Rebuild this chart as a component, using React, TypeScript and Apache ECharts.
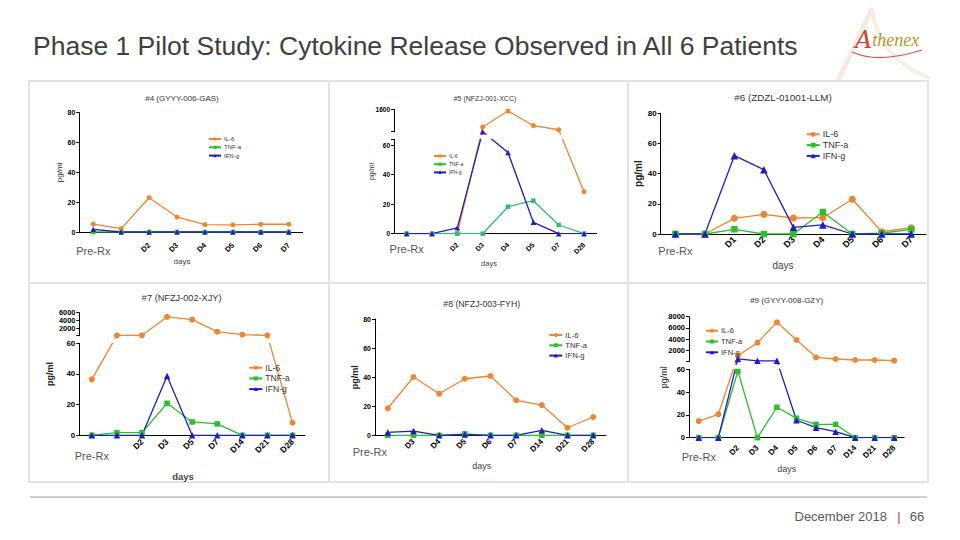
import React, { useEffect, useRef } from 'react';
import * as echarts from 'echarts';

const FONT = "'Liberation Sans', Arial, Helvetica, sans-serif";
const SERIES = ['IL-6', 'TNF-a', 'IFN-g'];
const C_IL6 = '#EE8530';
const C_TNF = '#2DBE2D';
const C_TNF5 = '#35B77C';
const C_IFN = '#1C1CC8';

// ---- data: panel #4
const p4Title = '#4 (GYYY-006-GAS)';
const p4Days = ['Pre-Rx', '', 'D2', 'D3', 'D4', 'D5', 'D6', 'D7'];
const p4IL6 = [5.3, 2.3, 23, 10, 5, 4.8, 5.2, 5.2];
const p4TNF = [0, 0, 0, 0, 0, 0, 0, 0];
const p4IFN = [1.8, 0, 0, 0, 0, 0, 0, 0];

// ---- data: panel #5
const p5Title = '#5 (NFZJ-001-XCC)';
const p5Days = ['Pre-Rx', '', 'D2', 'D3', 'D4', 'D5', 'D7', 'D28'];
const p5IL6 = [0, 0, 0, 1285, 1570, 1310, 1235, 28.5];
const p5TNF = [0, 0, 0, 0, 18.3, 22.4, 5.9, 0];
const p5IFN = [0, 0, 4, 1200, 55, 7.7, 0, 0];
const p5UpperTicks = [1600];

// ---- data: panel #6
const p6Title = '#6 (ZDZL-01001-LLM)';
const p6Days = ['Pre-Rx', '', 'D1', 'D2', 'D3', 'D4', 'D5', 'D6', 'D7'];
const p6IL6 = [0, 0, 10.4, 13, 10.6, 10.8, 23, 1.5, 4.2];
const p6TNF = [0, 0, 3.1, 0, 0, 14.6, 0, 0.5, 3];
const p6IFN = [0, 0, 51.9, 42.6, 4.4, 6, 0, 0, 0];

// ---- data: panel #7
const p7Title = '#7 (NFZJ-002-XJY)';
const p7Days = ['Pre-Rx', '', 'D2', 'D3', 'D5', 'D7', 'D14', 'D21', 'D28'];
const p7IL6 = [36.5, 100, 100, 4900, 4200, 1050, 260, 100, 8.2];
const p7TNF = [0, 1.7, 1.7, 20.9, 8.7, 7.4, 0, 0, 0];
const p7IFN = [0, 0, 0, 38.7, 0, 0, 0, 0, 0];
const p7UpperTicks = [2000, 4000, 6000];

// ---- data: panel #8
const p8Title = '#8 (NFZJ-003-FYH)';
const p8Days = ['Pre-Rx', 'D3', 'D4', 'D5', 'D6', 'D7', 'D14', 'D21', 'D28'];
const p8IL6 = [18.6, 40.1, 28.6, 38.9, 40.8, 24.1, 20.8, 5.2, 12.6];
const p8TNF = [0, 0, 0, 1, 0, 0, 0, 0, 0];
const p8IFN = [2, 2.9, 0, 0.5, 0, 0, 3.4, 0, 0];

// ---- data: panel #9
const p9Title = '#9 (GYYY-008-GZY)';
const p9Days = ['Pre-Rx', '', 'D2', 'D3', 'D4', 'D5', 'D6', 'D7', 'D14', 'D21', 'D28'];
const p9IL6 = [14.6, 20.5, 1070, 3380, 7000, 3860, 780, 480, 300, 300, 180];
const p9TNF = [0, 0, 58.5, 0, 26.7, 17, 11.7, 11.7, 0, 0, 0];
const p9IFN = [0, 0, 500, 150, 150, 15.3, 8.8, 5.3, 0, 0, 0];
const p9UpperTicks = [2000, 4000, 6000, 8000];

const LOW_INTERVAL = 20;
const Y_MAX = 80;

// ---- layout (positions / sizes / styles)
interface Broken {
  lowMax: number; lowTop: number; upMin: number; upMax: number; upInterval: number;
  upBottom: number; upTop: number; upTicks: number[]; upFont: number;
}
interface Layout {
  left: number; width: number; axisY: number; top?: number; broken?: Broken;
  titleX: number; titleY: number; titleSize: number;
  daysX: number; daysY: number; daysSize: number; daysBold?: boolean;
  preY: number; preDx?: number;
  legLeft: number; legRow1: number; legRow: number; legFont: number; legIW: number;
  yFont: number; xFont: number; xMargin: number;
  nameGap: number; nameSize: number; nameBold?: boolean; symbolSize: number; tnfColor?: string;
}

const L4: Layout = { left: 79.3, width: 223.4, axisY: 232, top: 112.7, titleX: 182, titleY: 98, titleSize: 8,
  daysX: 182, daysY: 261, daysSize: 8, preY: 251, legLeft: 208, legRow1: 139, legRow: 8.3, legFont: 6, legIW: 12,
  yFont: 7, xFont: 7.5, xMargin: 12, nameGap: 15, nameSize: 8, symbolSize: 5 };
const L5: Layout = { left: 394, width: 202.7, axisY: 233.7,
  broken: { lowMax: 64, lowTop: 139.3, upMin: 1200, upMax: 1600, upInterval: 400, upBottom: 131.7, upTop: 109.3, upTicks: p5UpperTicks, upFont: 6.5 },
  titleX: 485, titleY: 98, titleSize: 7, daysX: 489, daysY: 263, daysSize: 7.5, preY: 249,
  legLeft: 433, legRow1: 156, legRow: 8.2, legFont: 5, legIW: 12, yFont: 6.5, xFont: 7, xMargin: 10,
  nameGap: 19, nameSize: 7, symbolSize: 5, tnfColor: C_TNF5 };
const L6: Layout = { left: 660.7, width: 265.3, axisY: 234, top: 113.3, titleX: 783, titleY: 97, titleSize: 9.8,
  daysX: 783, daysY: 265, daysSize: 10, preY: 250.7, legLeft: 805.7, legRow1: 134.3, legRow: 10.8, legFont: 9, legIW: 13,
  yFont: 8, xFont: 9, xMargin: 4, nameGap: 14, nameSize: 10, nameBold: true, symbolSize: 7 };
const L7: Layout = { left: 79.3, width: 225.7, axisY: 435.3,
  broken: { lowMax: 60, lowTop: 343.3, upMin: 0, upMax: 6000, upInterval: 2000, upBottom: 335.7, upTop: 312.7, upTicks: p7UpperTicks, upFont: 7.3 },
  titleX: 181.7, titleY: 298.3, titleSize: 9.2, daysX: 183, daysY: 476.7, daysSize: 9.5, daysBold: true, preY: 456,
  legLeft: 248.3, legRow1: 367.7, legRow: 10.7, legFont: 8.6, legIW: 13, yFont: 8, xFont: 8.5, xMargin: 5,
  nameGap: 25, nameSize: 9, nameBold: true, symbolSize: 6 };
const L8: Layout = { left: 375, width: 231, axisY: 435.3, top: 319, titleX: 481.7, titleY: 304.3, titleSize: 8.7,
  daysX: 481.7, daysY: 465.7, daysSize: 9, preY: 452.3, preDx: -18, legLeft: 548.3, legRow1: 335, legRow: 10.3,
  legFont: 7.7, legIW: 13, yFont: 7, xFont: 8, xMargin: 5, nameGap: 15.5, nameSize: 9, nameBold: true, symbolSize: 6 };
const L9: Layout = { left: 689, width: 215, axisY: 437.7,
  broken: { lowMax: 60, lowTop: 369.3, upMin: 0, upMax: 8000, upInterval: 2000, upBottom: 361.7, upTop: 316.7, upTicks: p9UpperTicks, upFont: 7.5 },
  titleX: 786.7, titleY: 300, titleSize: 8, daysX: 786.7, daysY: 469, daysSize: 9, preY: 456.7,
  legLeft: 705, legRow1: 330.7, legRow: 10.8, legFont: 7.5, legIW: 12, yFont: 7.5, xFont: 8, xMargin: 9,
  nameGap: 21, nameSize: 9, symbolSize: 6 };

const PANELS = [
  { title: p4Title, days: p4Days, il6: p4IL6, tnf: p4TNF, ifn: p4IFN, L: L4 },
  { title: p5Title, days: p5Days, il6: p5IL6, tnf: p5TNF, ifn: p5IFN, L: L5 },
  { title: p6Title, days: p6Days, il6: p6IL6, tnf: p6TNF, ifn: p6IFN, L: L6 },
  { title: p7Title, days: p7Days, il6: p7IL6, tnf: p7TNF, ifn: p7IFN, L: L7 },
  { title: p8Title, days: p8Days, il6: p8IL6, tnf: p8TNF, ifn: p8IFN, L: L8 },
  { title: p9Title, days: p9Days, il6: p9IL6, tnf: p9TNF, ifn: p9IFN, L: L9 },
];

function buildOption(): any {
  const grid: any[] = [];
  const xAxis: any[] = [];
  const yAxis: any[] = [];
  const series: any[] = [];
  const legend: any[] = [];
  const el: any[] = [];

  const axisLine = { show: true, lineStyle: { color: '#000', width: 1 } };

  PANELS.forEach(({ title, days, il6, tnf, ifn, L }) => {
    const b = L.broken;
    const top = b ? b.upTop : (L.top as number);
    const height = L.axisY - top;
    const toDisplay = (v: number) => {
      if (!b) return v;
      const lowH = L.axisY - b.lowTop;
      if (v <= b.lowMax) return (v / b.lowMax) * lowH;
      return (L.axisY - b.upBottom) + ((v - b.upMin) / (b.upMax - b.upMin)) * (b.upBottom - b.upTop);
    };
    const yLabel = (size: number) => ({
      fontSize: size, fontWeight: 'bold', color: '#000', fontFamily: FONT, margin: 4,
      showMaxLabel: true, showMinLabel: true,
    });

    const gi = grid.length;
    grid.push({ left: L.left, top, width: L.width, height });
    const xi = xAxis.length;
    xAxis.push({
      type: 'category', gridIndex: gi, data: days, boundaryGap: true,
      axisLine, axisTick: { show: false },
      axisLabel: {
        interval: 0, rotate: 45, fontSize: L.xFont, fontWeight: 'bold', color: '#000',
        fontFamily: FONT, margin: L.xMargin,
        formatter: (v: string, i: number) => (i === 0 ? '' : v),
      },
      splitLine: { show: false },
    });
    const yi = yAxis.length;
    const nameCfg = {
      name: 'pg/ml', nameLocation: 'middle', nameGap: L.nameGap, nameRotate: 90,
      nameTextStyle: { fontSize: L.nameSize, fontWeight: L.nameBold ? 'bold' : 'normal', color: '#222', fontFamily: FONT },
    };
    if (b) {
      yAxis.push({
        type: 'value', gridIndex: gi, min: 0, max: height,
        axisLine: { show: false }, axisTick: { show: false }, axisLabel: { show: false }, splitLine: { show: false },
        ...nameCfg,
      });
      // lower axis segment
      const lg = grid.length;
      grid.push({ left: L.left, top: b.lowTop, width: L.width, height: L.axisY - b.lowTop });
      xAxis.push({ type: 'value', gridIndex: lg, show: false, min: 0, max: 1 });
      yAxis.push({
        type: 'value', gridIndex: lg, min: 0, max: b.lowMax, interval: LOW_INTERVAL,
        axisLine, axisTick: { show: true, length: 3, lineStyle: { color: '#000' } },
        axisLabel: { ...yLabel(L.yFont), formatter: (v: number) => (v % LOW_INTERVAL === 0 ? String(v) : '') },
        splitLine: { show: false },
      });
      // upper axis segment
      const ug = grid.length;
      const upH = b.upBottom - b.upTop;
      grid.push({ left: L.left, top: b.upTop, width: L.width, height: upH });
      xAxis.push({ type: 'value', gridIndex: ug, show: false, min: 0, max: 1 });
      yAxis.push({
        type: 'value', gridIndex: ug, min: b.upMin, max: b.upMax, interval: b.upInterval,
        axisLine, axisTick: { show: true, length: 3, lineStyle: { color: '#000' } },
        axisLabel: {
          ...yLabel(b.upFont), hideOverlap: false, lineHeight: b.upFont,
          formatter: (v: number) => (b.upTicks.indexOf(v) >= 0 ? String(v) : ''),
        },
        splitLine: { show: false },
      });
      // white band hiding the lines inside the axis break
      el.push({
        type: 'rect', z: 50,
        shape: { x: L.left + 2, y: b.upBottom + 3, width: L.width, height: b.lowTop - b.upBottom - 3.5 },
        style: { fill: '#ffffff' },
      });
    } else {
      yAxis.push({
        type: 'value', gridIndex: gi, min: 0, max: Y_MAX, interval: LOW_INTERVAL,
        axisLine, axisTick: { show: true, length: 3, lineStyle: { color: '#000' } },
        axisLabel: yLabel(L.yFont), splitLine: { show: false },
        ...nameCfg,
      });
    }

    const mk = (name: string, data: number[], color: string, symbol: string, size: number) => ({
      type: 'line', name, xAxisIndex: xi, yAxisIndex: yi, data: data.map(toDisplay),
      symbol, symbolSize: size, showAllSymbol: true,
      itemStyle: { color }, lineStyle: { color, width: 1.3 }, emphasis: { disabled: true }, silent: true,
    });
    const s = L.symbolSize;
    series.push(mk('IL-6', il6, C_IL6, 'circle', s));
    series.push(mk('TNF-a', tnf, L.tnfColor || C_TNF, 'rect', s - 0.5));
    series.push(mk('IFN-g', ifn, C_IFN, 'triangle', s + 0.5));

    legend.push({
      orient: 'vertical', left: L.legLeft, top: L.legRow1 - L.legRow / 2, padding: 0,
      itemWidth: L.legIW, itemHeight: Math.max(4, s - 1), itemGap: 0, selectedMode: false,
      data: SERIES,
      textStyle: { fontSize: L.legFont, color: '#333', fontFamily: FONT, lineHeight: L.legRow, padding: [0, 0, 0, -2] },
    });

    el.push({ type: 'text', x: L.titleX, y: L.titleY, style: { text: title, fontSize: L.titleSize, fontFamily: FONT, fill: '#333', align: 'center', verticalAlign: 'middle' } });
    el.push({ type: 'text', x: L.daysX, y: L.daysY, style: { text: 'days', fontSize: L.daysSize, fontWeight: L.daysBold ? 'bold' : 'normal', fontFamily: FONT, fill: '#444', align: 'center', verticalAlign: 'middle' } });
    const band = L.width / days.length;
    el.push({ type: 'text', x: L.left + band / 2 + (L.preDx || 0), y: L.preY, style: { text: days[0], fontSize: 11, fontFamily: FONT, fill: '#555', align: 'center', verticalAlign: 'middle' } });
  });

  // frame
  const frame = { stroke: '#E3E3E3', lineWidth: 2 };
  el.push({ type: 'rect', shape: { x: 29, y: 81, width: 899, height: 401 }, style: { ...frame, fill: 'none' }, z: -1 });
  el.push({ type: 'line', shape: { x1: 329, y1: 81, x2: 329, y2: 482 }, style: frame, z: -1 });
  el.push({ type: 'line', shape: { x1: 628, y1: 81, x2: 628, y2: 482 }, style: frame, z: -1 });
  el.push({ type: 'line', shape: { x1: 29, y1: 283, x2: 928, y2: 283 }, style: frame, z: -1 });

  // heading
  el.push({ type: 'text', x: 33, y: 46, style: { text: 'Phase 1 Pilot Study: Cytokine Release Observed in All 6 Patients', fontSize: 26.5, fontFamily: FONT, fill: '#404040', align: 'left', verticalAlign: 'middle' } });

  // logo
  el.push({ type: 'bezierCurve', shape: { x1: 872, y1: 8, x2: 838, y2: 80, cpx1: 858, cpy1: 40 }, style: { stroke: '#F5EBE1', lineWidth: 5, fill: 'none' }, z: -2 });
  el.push({ type: 'bezierCurve', shape: { x1: 872, y1: 10, x2: 930, y2: 78, cpx1: 880, cpy1: 60 }, style: { stroke: '#F7EFE6', lineWidth: 4, fill: 'none' }, z: -2 });
  el.push({ type: 'bezierCurve', shape: { x1: 852, y1: 52, x2: 922, y2: 50, cpx1: 878, cpy1: 64 }, style: { stroke: '#CF5A4E', lineWidth: 1.3, fill: 'none' } });
  el.push({ type: 'text', x: 855, y: 40, style: {
    text: '{a|A}{b|thenex}', verticalAlign: 'middle', align: 'left',
    rich: {
      a: { fontFamily: "'DejaVu Serif', serif", fontStyle: 'italic', fontSize: 24, fill: '#C8463C' },
      b: { fontFamily: "'Liberation Serif', serif", fontStyle: 'italic', fontSize: 18, fill: '#B8962E' },
    },
  } });

  // footer
  el.push({ type: 'line', shape: { x1: 30, y1: 497, x2: 927, y2: 497 }, style: { stroke: '#BFBFBF', lineWidth: 1.5 } });
  el.push({ type: 'text', x: 887, y: 516, style: { text: 'December 2018', fontSize: 13, fontFamily: FONT, fill: '#595959', align: 'right', verticalAlign: 'middle' } });
  el.push({ type: 'text', x: 899, y: 516, style: { text: '|', fontSize: 13, fontFamily: FONT, fill: '#C0392B', align: 'center', verticalAlign: 'middle' } });
  el.push({ type: 'text', x: 917, y: 516, style: { text: '66', fontSize: 13, fontFamily: FONT, fill: '#595959', align: 'center', verticalAlign: 'middle' } });

  return {
    animation: false,
    backgroundColor: '#ffffff',
    grid, xAxis, yAxis, series, legend,
    graphic: { elements: el },
  };
}

export default function App() {
  const ref = useRef<HTMLDivElement>(null);
  useEffect(() => {
    document.body.style.margin = '0';
    const chart = echarts.init(ref.current as HTMLDivElement, null, { renderer: 'svg', width: 960, height: 540 });
    chart.setOption(buildOption());
    return () => chart.dispose();
  }, []);
  return <div ref={ref} style={{ position: 'fixed', left: 0, top: 0, width: 960, height: 540, background: '#fff' }} />;
}
